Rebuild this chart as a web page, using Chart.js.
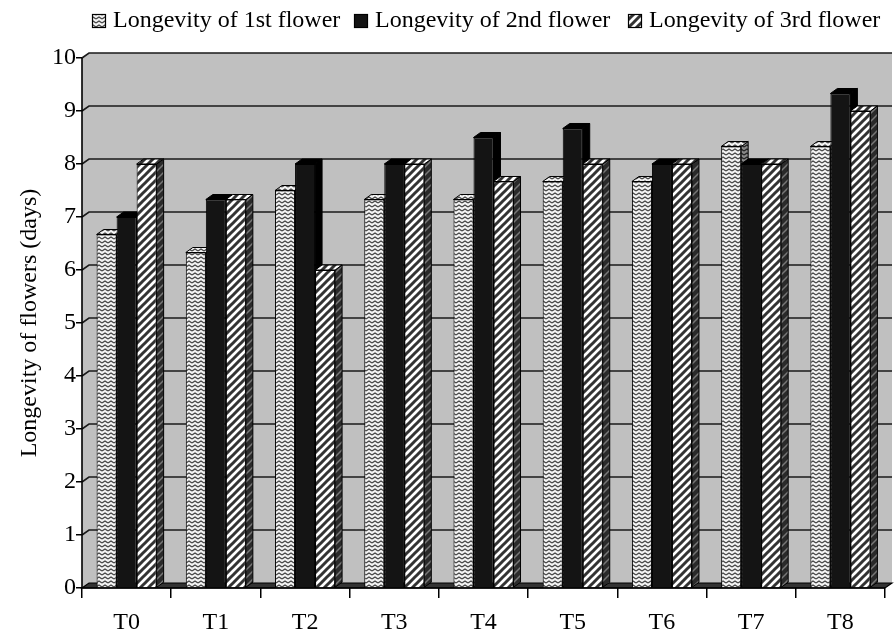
<!DOCTYPE html>
<html><head><meta charset="utf-8">
<script src="https://cdn.jsdelivr.net/npm/chart.js@4.4.0/dist/chart.umd.min.js"></script>
<style>html,body{margin:0;padding:0;background:#fff}</style>
</head><body>
<canvas id="c" width="896" height="632"></canvas>
<script>
const categories = ['T0','T1','T2','T3','T4','T5','T6','T7','T8'];
const seriesLabels = ['Longevity of 1st flower','Longevity of 2nd flower','Longevity of 3rd flower'];
const flower1 = [6.67, 6.33, 7.5, 7.33, 7.33, 7.67, 7.67, 8.33, 8.33];
const flower2 = [7.0, 7.33, 8.0, 8.0, 8.5, 8.67, 8.0, 8.0, 9.33];
const flower3 = [8.0, 7.33, 6.0, 8.0, 7.67, 8.0, 8.0, 8.0, 9.0];
const yTicks = [0,1,2,3,4,5,6,7,8,9,10];
const yTitle = 'Longevity of flowers (days)';

function makePattern(w,h,draw){
  const c=document.createElement('canvas');c.width=w;c.height=h;
  const x=c.getContext('2d');draw(x,w,h);
  return x.createPattern(c,'repeat');
}
const wavy = makePattern(6,4,(x,w,h)=>{
  x.fillStyle='#f4f4f4';x.fillRect(0,0,w,h);
  x.strokeStyle='#444';x.lineWidth=1.3;
  x.beginPath();x.moveTo(0,3);x.lineTo(3,1);x.lineTo(6,3);x.stroke();
});
const wavyDark = makePattern(6,4,(x,w,h)=>{
  x.fillStyle='#888';x.fillRect(0,0,w,h);
  x.strokeStyle='#222';x.lineWidth=1.3;
  x.beginPath();x.moveTo(0,3);x.lineTo(3,1);x.lineTo(6,3);x.stroke();
});
function stripe(bg,fg,lw){
  return makePattern(8,8,(x,w,h)=>{
    x.fillStyle=bg;x.fillRect(0,0,w,h);
    x.strokeStyle=fg;x.lineWidth=lw;
    x.beginPath();
    x.moveTo(-2,2);x.lineTo(2,-2);
    x.moveTo(0,8);x.lineTo(8,0);
    x.moveTo(6,10);x.lineTo(10,6);
    x.stroke();
  });
}
const stripes = stripe('#fff','#333',3);
const stripesDark = stripe('#2a2a2a','#777',1.5);

const frontFill = [wavy,'#141414',stripes];
const topFill = [wavy,'#000',stripes];
const sideFill = [wavyDark,'#000',stripesDark];

const DX = 7, DY = -5;
const legendBoxX = [92, 354, 628];

const box3d = {
  id:'box3d',
  beforeDatasetsDraw(chart){
    const {ctx, chartArea:a, scales:{y}} = chart;
    ctx.save();
    ctx.fillStyle='#c0c0c0';
    ctx.beginPath();
    ctx.moveTo(a.left,a.bottom);ctx.lineTo(a.left,a.top);
    ctx.lineTo(a.left+DX,a.top+DY);ctx.lineTo(a.right+DX,a.top+DY);
    ctx.lineTo(a.right+DX,a.bottom+DY);ctx.lineTo(a.left+DX,a.bottom+DY);
    ctx.closePath();ctx.fill();
    ctx.strokeStyle='#1a1a1a';ctx.lineWidth=1.6;
    yTicks.forEach(v=>{
      if(v===0) return;
      const py=y.getPixelForValue(v);
      ctx.beginPath();ctx.moveTo(a.left,py);ctx.lineTo(a.left+DX,py+DY);ctx.lineTo(a.right+DX,py+DY);ctx.stroke();
    });
    ctx.fillStyle='#333';
    ctx.beginPath();
    ctx.moveTo(a.left,a.bottom);ctx.lineTo(a.right,a.bottom);
    ctx.lineTo(a.right+DX,a.bottom+DY);ctx.lineTo(a.left+DX,a.bottom+DY);
    ctx.closePath();ctx.fill();
    ctx.strokeStyle='#000';ctx.lineWidth=1.2;ctx.stroke();
    ctx.lineWidth=1.6;
    ctx.beginPath();ctx.moveTo(a.left,a.top);ctx.lineTo(a.left,a.bottom);ctx.lineTo(a.right,a.bottom);ctx.stroke();
    ctx.lineWidth=1;ctx.strokeStyle='#000';
    const n = chart.data.labels.length;
    for(let i=0;i<n;i++){
      chart.data.datasets.forEach((ds,d)=>{
        const el = chart.getDatasetMeta(d).data[i];
        const p = el.getProps(['x','y','base','width'],true);
        const l=p.x-p.width/2, r=p.x+p.width/2, t=p.y, b=p.base;
        ctx.fillStyle=sideFill[d];
        ctx.beginPath();ctx.moveTo(r,b);ctx.lineTo(r,t);ctx.lineTo(r+DX,t+DY);ctx.lineTo(r+DX,b+DY);ctx.closePath();ctx.fill();ctx.stroke();
        ctx.fillStyle=topFill[d];
        ctx.beginPath();ctx.moveTo(l,t);ctx.lineTo(r,t);ctx.lineTo(r+DX,t+DY);ctx.lineTo(l+DX,t+DY);ctx.closePath();ctx.fill();ctx.stroke();
      });
    }
    ctx.restore();
  },
  afterDraw(chart){
    const ctx = chart.ctx;
    ctx.save();
    ctx.font = "24px 'Liberation Serif', 'Times New Roman', serif";
    ctx.textBaseline = 'alphabetic';
    ctx.textAlign = 'left';
    chart.data.datasets.forEach((ds,d)=>{
      const bx = legendBoxX[d];
      ctx.fillStyle = ds.backgroundColor;
      ctx.fillRect(bx,14,14,14);
      ctx.strokeStyle='#000';ctx.lineWidth=1.2;
      ctx.strokeRect(bx+0.5,14.5,13,13);
      ctx.fillStyle='#000';
      ctx.fillText(ds.label, bx+21, 27);
    });
    ctx.restore();
  }
};

Chart.defaults.font.family = "'Liberation Serif', 'Times New Roman', serif";
Chart.defaults.color = '#000';

new Chart(document.getElementById('c'),{
  type:'bar',
  data:{
    labels:categories,
    datasets:[flower1,flower2,flower3].map((vals,d)=>({
      label:seriesLabels[d], data:vals,
      backgroundColor:frontFill[d], borderColor:'#000', borderWidth:1,
      categoryPercentage:0.673, barPercentage:1.0
    }))
  },
  options:{
    responsive:false, animation:false, devicePixelRatio:1,
    layout:{padding:{top:58,right:11,left:0,bottom:0}},
    plugins:{
      legend:{display:false},
      tooltip:{enabled:false}
    },
    scales:{
      x:{
        grid:{display:true,drawOnChartArea:false,drawTicks:true,tickLength:10,color:'#000',lineWidth:1.5,offset:true},
        border:{display:false},
        ticks:{font:{size:24},color:'#000',padding:10,maxRotation:0},
        afterFit(s){s.height=44;}
      },
      y:{
        min:0,max:10,
        afterBuildTicks(s){s.ticks=yTicks.map(v=>({value:v}));},
        grid:{display:true,drawOnChartArea:false,drawTicks:true,tickLength:6,color:'#000',lineWidth:1.5},
        border:{display:false},
        ticks:{font:{size:24},color:'#000',padding:0},
        title:{display:true,text:yTitle,font:{size:24},color:'#000',padding:{top:15,bottom:0}},
        afterFit(s){s.width=82;}
      }
    }
  },
  plugins:[box3d]
});
</script>
</body></html>
